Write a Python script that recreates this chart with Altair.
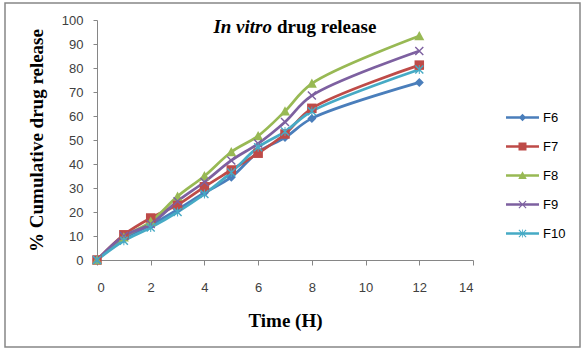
import altair as alt
import pandas as pd

# ---- data ----
time_h = [0, 1, 2, 3, 4, 5, 6, 7, 8, 12]
f6 = [0, 9, 14.5, 21, 28, 34.5, 45, 51, 59, 74]
f7 = [0, 10.5, 17.5, 23, 30.5, 37.5, 44.5, 52.5, 63.2, 81.2]
f8 = [0, 9.5, 16, 26.5, 35, 45, 51.7, 62, 73.5, 93.3]
f9 = [0, 10, 15, 24.5, 32.5, 41.5, 48.5, 57.5, 68.5, 87.1]
f10 = [0, 8, 13.5, 20, 27.5, 36.5, 47, 53.5, 62, 79.4]
series_names = ["F6", "F7", "F8", "F9", "F10"]
series_values = [f6, f7, f8, f9, f10]
x_ticks = [0, 2, 4, 6, 8, 10, 12, 14]
y_ticks = [0, 10, 20, 30, 40, 50, 60, 70, 80, 90, 100]

colors = ["#4a7ebb", "#be4b48", "#98b954", "#7d60a0", "#46aac5"]

rows = []
for name, vals in zip(series_names, series_values):
    for t, v in zip(time_h, vals):
        rows.append({"Time": t, "Release": v, "Series": name})
df = pd.DataFrame(rows)

# ---- marker paths (unit square -1..1), all filled polygons ----
def diamond(a=0.9):
    return f"M0,{-a}L{-a},0L0,{a}L{a},0Z"

def square(a=0.95):
    return f"M{-a},{-a}L{-a},{a}L{a},{a}L{a},{-a}Z"

def triangle(a=1.0):
    return f"M0,{-a}L{-a},{a * 0.85}L{a},{a * 0.85}Z"

def xmark(a=0.9, d=0.2):
    b1 = f"M{-a + d},{-a}L{-a},{-a + d}L{a - d},{a}L{a},{a - d}Z"
    b2 = f"M{a - d},{-a}L{-a},{a - d}L{-a + d},{a}L{a},{-a + d}Z"
    return b1 + b2

def star(a=0.9, d=0.2, t=0.1):
    return xmark(a, d) + f"M{-t},{-a}L{-t},{a}L{t},{a}L{t},{-a}Z"

def with_line(p, L=3.3, h=0.25):
    return f"M{-L},{-h}L{-L},{h}L{L},{h}L{L},{-h}Z" + p

marker_paths = [diamond(), square(), triangle(), xmark(), star()]
legend_paths = [with_line(diamond(0.75)), with_line(square(0.8)), with_line(triangle(0.85)),
                with_line(xmark(0.8, 0.15)), with_line(star(0.8, 0.15, 0.08))]

serif = "Liberation Serif"
sans = "Liberation Sans"

x_enc = alt.X("Time:Q", scale=alt.Scale(domain=[0, 14], nice=False),
              axis=alt.Axis(values=x_ticks, title="Time (H)", grid=False, labelOverlap=False,
                            labelPadding=16, tickSize=5, titlePadding=17,
                            labelFont=sans, labelFontSize=13, labelColor="#404040",
                            titleFont=serif, titleFontSize=19, titleFontWeight="bold",
                            titleColor="#000000", domainColor="#868686", tickColor="#868686"))
y_enc = alt.Y("Release:Q", scale=alt.Scale(domain=[0, 100], nice=False),
              axis=alt.Axis(values=y_ticks, title="% Cumulative drug release", grid=False,
                            labelOverlap=False, tickCount=11,
                            labelPadding=10, tickSize=4, titlePadding=15,
                            labelFont=sans, labelFontSize=13, labelColor="#404040",
                            titleFont=serif, titleFontSize=19, titleFontWeight="bold",
                            titleColor="#000000", domainColor="#868686", tickColor="#868686"))

color_scale = alt.Scale(domain=series_names, range=colors)

base = alt.Chart(df)

lines = base.mark_line(interpolate="catmull-rom", strokeWidth=2.75).encode(
    x=x_enc, y=y_enc,
    color=alt.Color("Series:N", scale=color_scale, legend=None),
    detail="Series:N",
)

points = base.mark_point(filled=True, opacity=1, size=100).encode(
    x="Time:Q", y="Release:Q",
    color=alt.Color("Series:N", scale=color_scale, legend=None),
    shape=alt.Shape("Series:N", scale=alt.Scale(domain=series_names, range=marker_paths), legend=None),
)

legend_cfg = dict(title=None, orient="none", legendX=419, legendY=91,
                  symbolSize=100, labelOffset=14, rowPadding=14,
                  labelFont=sans, labelFontSize=13, labelColor="#000000",
                  symbolOpacity=1, padding=0)

legend_layer = base.mark_point(filled=True, opacity=1, size=100).encode(
    x="Time:Q", y="Release:Q",
    color=alt.Color("Series:N", scale=alt.Scale(domain=series_names, range=colors),
                    legend=alt.Legend(**legend_cfg)),
    shape=alt.Shape("Series:N", scale=alt.Scale(domain=series_names, range=legend_paths),
                    legend=alt.Legend(**legend_cfg)),
).transform_filter("datum.Release < -1000")

title_df = pd.DataFrame({"a": [0]})
title_italic = alt.Chart(title_df).mark_text(
    text="In vitro", font=serif, fontSize=19, fontWeight="bold", fontStyle="italic",
    align="right", baseline="alphabetic", color="#000000"
).encode(x=alt.value(175), y=alt.value(13))
title_plain = alt.Chart(title_df).mark_text(
    text="drug release", font=serif, fontSize=19, fontWeight="bold",
    align="left", baseline="alphabetic", color="#000000"
).encode(x=alt.value(180), y=alt.value(13))

border = alt.Chart(title_df).mark_rect(
    fill=None, stroke="#868686", strokeWidth=1.5
).encode(x=alt.value(-92), x2=alt.value(483), y=alt.value(-17), y2=alt.value(327))

chart = alt.layer(border, lines, points, legend_layer, title_italic, title_plain).resolve_scale(
    shape="independent", color="independent"
).properties(
    width=376, height=240,
    autosize=alt.AutoSizeParams(type="none"),
    padding={"left": 97, "top": 20, "right": 110, "bottom": 91},
).configure_view(stroke=None)

chart.save("out.html", embed_options={"renderer": "svg", "actions": False})
